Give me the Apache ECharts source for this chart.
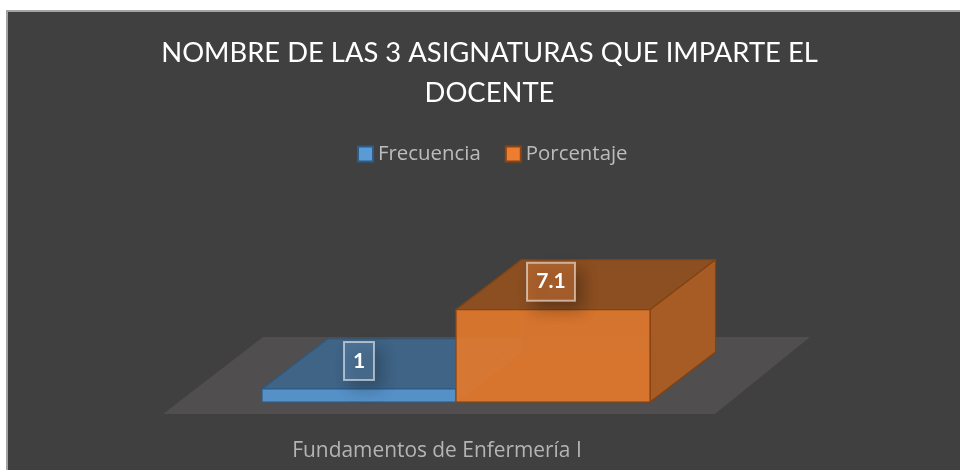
<!DOCTYPE html>
<html><head><meta charset="utf-8">
<style>
html,body{margin:0;padding:0;background:#fff;width:960px;height:470px;overflow:hidden}
#panel{position:absolute;left:6px;top:10px;width:954px;height:460px;background:#404040;border-top:2px solid #a3a3a3;border-left:2px solid #a3a3a3}
#main{position:absolute;left:0;top:0;width:960px;height:470px}
</style>
<script src="https://cdn.jsdelivr.net/npm/echarts@6/dist/echarts.min.js"></script>
</head><body>
<div id="panel"></div>
<div id="main"></div>
<script>
const titleText = 'NOMBRE DE LAS 3 ASIGNATURAS QUE IMPARTE EL\nDOCENTE';
const categories = ['Fundamentos de Enfermería I'];
const seriesNames = ['Frecuencia', 'Porcentaje'];
const frecuencia = [1];
const porcentaje = [7.1];

const DX = 65.5, DY = 50, BAR = 0.3515;
const chart = echarts.init(document.getElementById('main'), null, {renderer: 'canvas'});

function box(api, idx, faces, labelW) {
  const base = api.coord([api.value(0), 0]);
  const top = api.coord([api.value(0), api.value(1)]);
  const band = api.size([1, 0])[0];
  const w = band * BAR;
  const x0 = base[0] - w + idx * w, x1 = x0 + w;
  const yb = base[1], yt = top[1];
  const poly = (pts, fill, stroke) => ({type: 'polygon', shape: {points: pts},
    style: {fill, stroke: stroke || faces.line, lineWidth: 1.2}});
  const cx = (x0 + x1) / 2 - idx * 2;
  const cy = yt - 28;
  return {type: 'group', children: [
    poly([[x0, yb], [x0 + DX, yb - DY], [x1 + DX, yb - DY], [x1, yb]], faces.inner, 'rgba(0,0,0,0)'),
    poly([[x0, yb], [x0 + DX, yb - DY], [x0 + DX, yt - DY], [x0, yt]], faces.inner, faces.ghost),
    poly([[x0, yt], [x0 + DX, yt - DY], [x1 + DX, yt - DY], [x1, yt]], faces.top),
    poly([[x1, yb], [x1 + DX, yb - DY], [x1 + DX, yt - DY], [x1, yt]], faces.side),
    poly([[x0, yb], [x1, yb], [x1, yt], [x0, yt]], faces.front),
    {type: 'rect', shape: {x: cx - labelW / 2, y: cy - 19, width: labelW, height: 38},
      style: {fill: faces.label, stroke: 'rgba(255,255,255,0.55)', lineWidth: 2,
        shadowBlur: 16, shadowColor: 'rgba(0,0,0,0.4)', shadowOffsetX: 7, shadowOffsetY: 8}},
    {type: 'text', x: cx, y: cy, style: {text: String(api.value(1)), fill: '#fff',
      font: 'bold 21px Lato', textAlign: 'center', textVerticalAlign: 'middle'}}
  ]};
}

const option = {
  animation: false,
  backgroundColor: 'transparent',
  title: {text: titleText, left: 484.5, top: 28, textAlign: 'center',
    textStyle: {fontFamily: 'Lato', fontWeight: 'normal', fontSize: 27.4, lineHeight: 40, color: '#fff'}},
  legend: {data: seriesNames, left: 352, top: 139, itemWidth: 15, itemHeight: 15, itemGap: 24,
    icon: 'rect', textStyle: {fontFamily: 'Open Sans', fontSize: 20.4, color: '#bcbcbc'}},
  grid: {left: 180, width: 552, top: 298, height: 104},
  xAxis: {type: 'category', data: categories,
    axisLine: {show: false}, axisTick: {show: false},
    axisLabel: {fontFamily: 'Open Sans', fontSize: 20.9, color: '#b4b4b4', margin: 39, padding: [0, 38, 0, 0]}},
  yAxis: {type: 'value', min: 0, max: 8, interval: 2, show: false},
  series: [
    {type: 'custom', name: 'Plano', silent: true, z: 1, data: [[0, 0]], encode: {x: 0, y: 1},
      renderItem: (p, api) => {
        const b = api.coord([0, 0]), band = api.size([1, 0])[0];
        const l = b[0] - band / 2, r = b[0] + band / 2;
        return {type: 'polygon', shape: {points: [[l - 17, b[1] + 12], [r - 17, b[1] + 12], [r + 78, b[1] - 65], [l + 83, b[1] - 65]]},
          style: {fill: '#504e4f'}};
      }},
    {type: 'custom', name: seriesNames[0], z: 2, data: frecuencia.map((v, i) => [i, v]), encode: {x: 0, y: 1},
      itemStyle: {color: '#5b9bd5', borderColor: '#2c5c87', borderWidth: 2},
      renderItem: (p, api) => box(api, 0, {front: '#5591c7', top: '#3f6486', side: '#3f6486', inner: 'rgba(70,120,165,0.15)',
        ghost: 'rgba(0,0,0,0)', line: '#2a5a85', label: 'rgba(90,130,165,0.55)'}, 30)},
    {type: 'custom', name: seriesNames[1], z: 3, data: porcentaje.map((v, i) => [i, v]), encode: {x: 0, y: 1},
      itemStyle: {color: '#ed7d31', borderColor: '#8a4513', borderWidth: 2},
      renderItem: (p, api) => box(api, 1, {front: 'rgba(226,120,45,0.92)', top: '#8c4f22', side: '#a85c25', inner: 'rgba(237,125,49,0.10)',
        ghost: 'rgba(237,150,90,0.2)', line: '#84420f', label: 'rgba(185,105,50,0.75)'}, 48)}
  ]
};
chart.setOption(option);
</script>
</body></html>
